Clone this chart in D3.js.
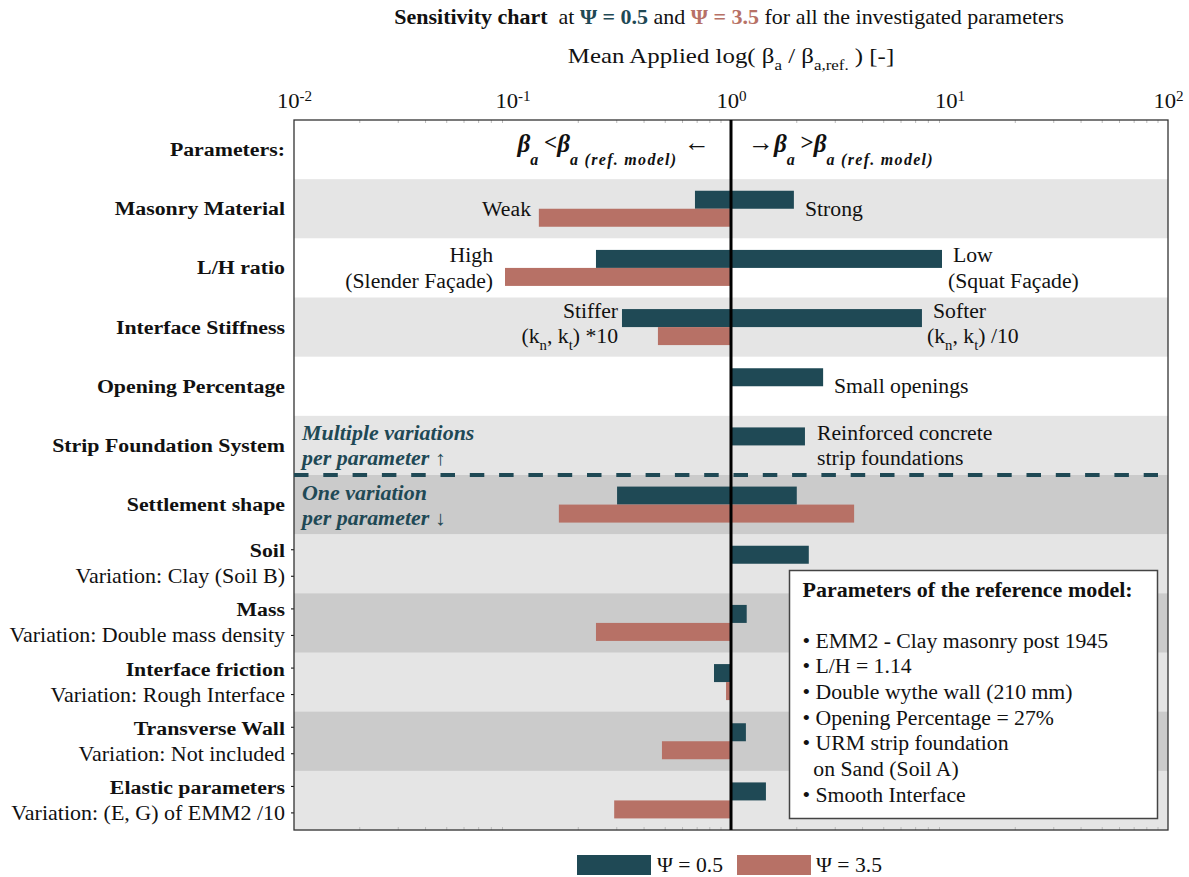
<!DOCTYPE html>
<html><head><meta charset="utf-8">
<script src="https://cdn.jsdelivr.net/npm/d3@7"></script>
<style>
body{margin:0;background:#fff}
svg text{font-family:"Liberation Serif","Times New Roman",serif;fill:#111;white-space:pre}
</style></head><body>
<svg id="c" width="1189" height="877"></svg>
<script>
// ---------- DATA ----------
const headerRow = "Parameters:";
const parameters = ["Masonry Material","L/H ratio","Interface Stiffness","Opening Percentage","Strip Foundation System","Settlement shape","Soil","Mass","Interface friction","Transverse Wall","Elastic parameters"];
const variations = ["","","","","","","Variation: Clay (Soil B)","Variation: Double mass density","Variation: Rough Interface","Variation: Not included","Variation: (E, G) of EMM2 /10"];
// mean applied beta_a / beta_a,ref (1 = no change)
const psi05Lower  = [0.684, 0.241, 0.317, 1, 1, 0.301, 1, 1, 0.836, 1, 1];
const psi05Higher = [1.94, 9.24, 7.48, 2.64, 2.18, 2.00, 2.27, 1.18, 1, 1.17, 1.445];
const psi35Lower  = [0.132, 0.0924, 0.463, 1, 1, 0.163, 1, 0.241, 0.949, 0.483, 0.292];
const psi35Higher = [1, 1, 1, 1, 1, 3.66, 1, 1, 1, 1, 1];
const tickValues = [0.01, 0.1, 1, 10, 100];
const tickExponents = ["-2","-1","0","1","2"];
const seriesNames = ["\u03A8 = 0.5", "\u03A8 = 3.5"];
const refModelTitle = "Parameters of the reference model:";
const refModelItems = ["\u2022 EMM2 - Clay masonry post 1945","\u2022 L/H = 1.14","\u2022 Double wythe wall (210 mm)","\u2022 Opening Percentage = 27%","\u2022 URM strip foundation","  on Sand (Soil A)","\u2022 Smooth Interface"];

// ---------- STYLE ----------
const TEAL = "#1f4955", RED = "#b77166";
const LIGHT = "#e5e5e5", DARK = "#cbcbcb";
const bandFill = ["#fff", LIGHT, "#fff", LIGHT, "#fff", LIGHT, DARK, LIGHT, DARK, LIGHT, DARK, LIGHT];

const svg = d3.select("#c");
const X0 = 294, X1 = 1168, Y0 = 120, Y1 = 830;
const x = d3.scaleLog().domain([0.01, 100]).range([X0, X1]);
const rows = [headerRow, ...parameters];
const y = d3.scaleBand().domain(rows).range([Y0, Y1]);
const bw = y.bandwidth();
const barH = 18;
const cy = r => y(r) + bw / 2;

function rich(sel, px, py, anchor, parts, size, sx) {
  sx = sx || 1;
  const t = sel.append("text").attr("transform", `translate(${px},${py}) scale(${sx},1)`)
    .attr("text-anchor", anchor).style("font-size", size + "px");
  let cur = 0;
  parts.forEach(p => {
    const off = p.dy !== undefined ? p.dy : p.sub ? size * 0.32 : p.sup ? -size * 0.42 : 0;
    const ts = t.append("tspan").text(p.t).attr("dy", off - cur);
    cur = off;
    if (p.size) ts.style("font-size", p.size + "px");
    else if (p.sub || p.sup) ts.style("font-size", (size * 0.68) + "px");
    if (p.bold) ts.style("font-weight", "bold");
    if (p.italic) ts.style("font-style", "italic");
    if (p.fill) ts.style("fill", p.fill);
    if (p.ls) ts.style("letter-spacing", p.ls + "px");
  });
  return t;
}

// backgrounds
svg.append("g").selectAll("rect").data(rows).join("rect")
  .attr("x", X0).attr("width", X1 - X0)
  .attr("y", d => y(d)).attr("height", bw + 0.5)
  .attr("fill", (d, i) => bandFill[i]);

// bars
function bars(vals, color, top) {
  svg.append("g").selectAll("rect").data(parameters.map((p, i) => ({p, v: vals[i]})).filter(d => d.v !== 1))
    .join("rect")
    .attr("x", d => x(Math.min(d.v, 1)))
    .attr("width", d => Math.abs(x(d.v) - x(1)))
    .attr("y", d => top ? cy(d.p) - barH : cy(d.p))
    .attr("height", barH)
    .attr("fill", color);
}
bars(psi05Lower, TEAL, true);
bars(psi05Higher, TEAL, true);
bars(psi35Lower, RED, false);
bars(psi35Higher, RED, false);

// minor ticks
const minor = x.ticks().filter(v => tickValues.indexOf(v) < 0);
svg.append("g").selectAll("line").data(minor).join("line")
  .attr("x1", d => x(d)).attr("x2", d => x(d)).attr("y1", Y0).attr("y2", Y0 + 3)
  .attr("stroke", "#bbb").attr("stroke-width", 1);
svg.append("g").selectAll("line").data(minor).join("line")
  .attr("x1", d => x(d)).attr("x2", d => x(d)).attr("y1", Y1).attr("y2", Y1 - 3)
  .attr("stroke", "#bbb").attr("stroke-width", 1);
// left ticks for two-line rows
const twoLine = parameters.filter((p, i) => variations[i]);
svg.append("g").selectAll("path").data(twoLine).join("path")
  .attr("d", d => `M${X0 - 3},${cy(d) - 14}H${X0}M${X0 - 3},${cy(d) + 12.5}H${X0}`)
  .attr("stroke", "#000").attr("stroke-width", 1);

// border
svg.append("rect").attr("x", X0).attr("y", Y0).attr("width", X1 - X0).attr("height", Y1 - Y0)
  .attr("fill", "none").attr("stroke", "#333").attr("stroke-width", 1.3);

// center line
svg.append("line").attr("x1", x(1)).attr("x2", x(1)).attr("y1", Y0).attr("y2", Y1)
  .attr("stroke", "#000").attr("stroke-width", 3);

// dashed separator
const sepY = y(parameters[5]);
svg.append("line").attr("x1", X0).attr("x2", X1 - 10).attr("y1", sepY).attr("y2", sepY)
  .attr("stroke", TEAL).attr("stroke-width", 4).attr("stroke-dasharray", "14.5,14.8");

// top axis
const ax = svg.append("g").attr("transform", `translate(0,${Y0})`)
  .call(d3.axisTop(x).tickValues(tickValues).tickSize(0).tickPadding(12));
ax.attr("font-family", null).attr("font-size", null);
ax.select(".domain").remove();
ax.selectAll(".tick text").style("font-size", "21px").style("fill", "#111")
  .attr("transform", "scale(1.08,1)").each(function(d, i) {
  const t = d3.select(this); t.text(null);
  t.append("tspan").text("10");
  t.append("tspan").attr("dy", "-0.5em").style("font-size", "14px").text(tickExponents[i]);
});

// title & axis label
rich(svg, 729, 24, "middle", [
  {t: "Sensitivity chart", bold: true}, {t: "  at "}, {t: seriesNames[0], bold: true, fill: TEAL},
  {t: " and "}, {t: seriesNames[1], bold: true, fill: RED}, {t: " for all the investigated parameters"}], 20, 1.1);
rich(svg, 731, 63, "middle", [
  {t: "Mean Applied log( \u03B2"}, {t: "a", sub: true}, {t: " / \u03B2"}, {t: "a,ref.", sub: true}, {t: " ) [-]"}], 22, 1.13);

// row labels
const lab = svg.append("g");
rows.forEach((r, i) => {
  const v = i === 0 ? "" : variations[i - 1];
  if (!v) {
    rich(lab, 285, cy(r) + 6.5, "end", [{t: r, bold: true}], 19.5, 1.12);
  } else {
    rich(lab, 285, cy(r) - 6.5, "end", [{t: r, bold: true}], 19.5, 1.12);
    rich(lab, 285, cy(r) + 19.5, "end", [{t: v}], 20, 1.1);
  }
});

// header annotations
const hy = cy(headerRow) + 2;
rich(svg, 710, hy, "end", [
  {t: "\u03B2", bold: true, italic: true, size: 25}, {t: "a", dy: 13, bold: true, italic: true, size: 16},
  {t: " <", dy: -2, bold: true, size: 23}, {t: "\u03B2", dy: 0, bold: true, italic: true, size: 25},
  {t: "a (ref. model)", dy: 13, bold: true, italic: true, size: 16, ls: 1.3}, {t: " \u2190", dy: -1, size: 26}], 22, 1.0);
rich(svg, 748, hy, "start", [
  {t: "\u2192", dy: -1, size: 26}, {t: "\u03B2", dy: 0, bold: true, italic: true, size: 25}, {t: "a", dy: 13, bold: true, italic: true, size: 16},
  {t: " >", dy: -2, bold: true, size: 23}, {t: "\u03B2", dy: 0, bold: true, italic: true, size: 25},
  {t: "a (ref. model)", dy: 13, bold: true, italic: true, size: 16, ls: 1.3}], 22, 1.0);

// variation annotations
const FS = 20.5, SX = 1.06;
const p = parameters;
rich(svg, 531, cy(p[0]) + 7, "end", [{t: "Weak"}], FS, SX);
rich(svg, 805, cy(p[0]) + 7, "start", [{t: "Strong"}], FS, SX);
rich(svg, 493, cy(p[1]) - 5.5, "end", [{t: "High"}], FS, SX);
rich(svg, 493, cy(p[1]) + 20.5, "end", [{t: "(Slender Fa\u00E7ade)"}], FS, SX);
rich(svg, 953, cy(p[1]) - 5.5, "start", [{t: "Low"}], FS, SX);
rich(svg, 948, cy(p[1]) + 20.5, "start", [{t: "(Squat Fa\u00E7ade)"}], FS, SX);
rich(svg, 618, cy(p[2]) - 9.5, "end", [{t: "Stiffer"}], FS, SX);
rich(svg, 618, cy(p[2]) + 16, "end", [{t: "(k"}, {t: "n", sub: true}, {t: ", k"}, {t: "t", sub: true}, {t: ") *10"}], FS, SX);
rich(svg, 933, cy(p[2]) - 9.5, "start", [{t: "Softer"}], FS, SX);
rich(svg, 927, cy(p[2]) + 16, "start", [{t: "(k"}, {t: "n", sub: true}, {t: ", k"}, {t: "t", sub: true}, {t: ") /10"}], FS, SX);
rich(svg, 834, cy(p[3]) + 7, "start", [{t: "Small openings"}], FS, SX);
rich(svg, 817, cy(p[4]) - 5.5, "start", [{t: "Reinforced concrete"}], FS, SX);
rich(svg, 817, cy(p[4]) + 19.5, "start", [{t: "strip foundations"}], FS, SX);
rich(svg, 302, cy(p[4]) - 5.5, "start", [{t: "Multiple variations", bold: true, italic: true, fill: TEAL}], FS, 1.07);
rich(svg, 302, cy(p[4]) + 19.5, "start", [{t: "per parameter \u2191", bold: true, italic: true, fill: TEAL}], FS, 1.07);
rich(svg, 302, cy(p[5]) - 4.5, "start", [{t: "One variation", bold: true, italic: true, fill: TEAL}], FS, 1.07);
rich(svg, 302, cy(p[5]) + 20.5, "start", [{t: "per parameter \u2193", bold: true, italic: true, fill: TEAL}], FS, 1.07);

// reference model box
const bx = 789.5, by = 570.5;
svg.append("rect").attr("x", bx).attr("y", by).attr("width", 368).attr("height", 248)
  .attr("fill", "#fff").attr("stroke", "#444").attr("stroke-width", 1.5);
rich(svg, bx + 13, by + 26, "start", [{t: refModelTitle, bold: true}], 20, 1.1);
refModelItems.forEach((s, i) => rich(svg, bx + 13, by + 77 + i * 25.7, "start", [{t: s}], 20.5, 1.06));

// legend
const lg = svg.append("g");
[[TEAL, 577, 657], [RED, 737, 816]].forEach((d, i) => {
  lg.append("rect").attr("x", d[1]).attr("y", 855).attr("width", 74).attr("height", 20).attr("fill", d[0]);
  rich(lg, d[2], 872, "start", [{t: seriesNames[i]}], 21, 1.03);
});
</script>
</body></html>
